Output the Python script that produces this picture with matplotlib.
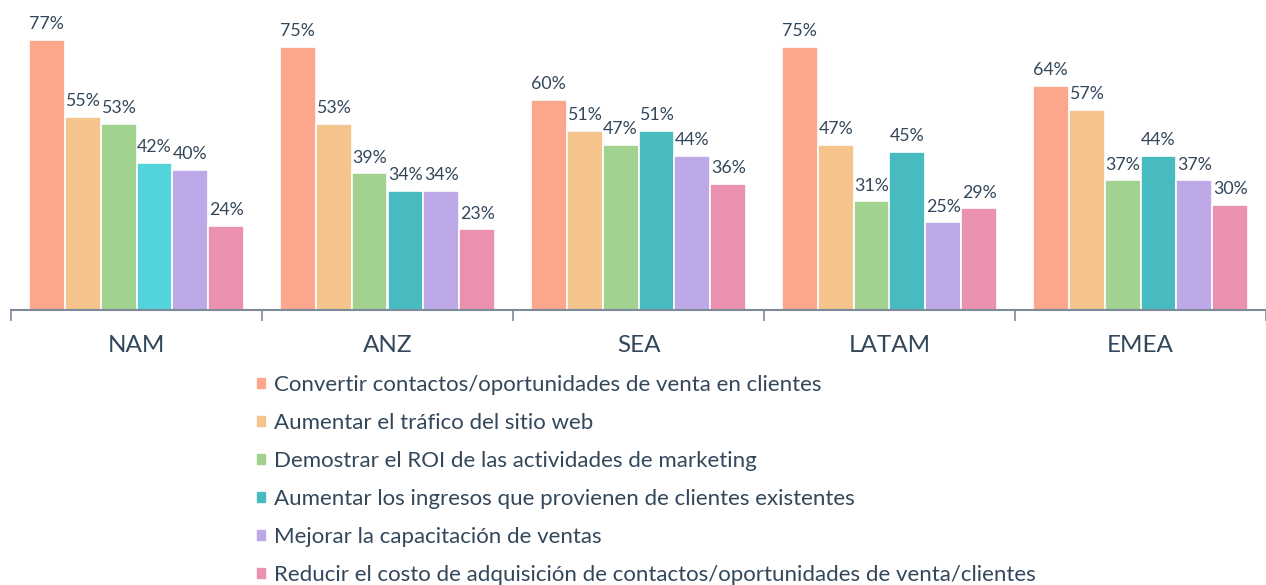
import matplotlib.pyplot as plt
import matplotlib.patches as mpatches
import numpy as np

regions = ["NAM", "ANZ", "SEA", "LATAM", "EMEA"]
series = [
    "Convertir contactos/oportunidades de venta en clientes",
    "Aumentar el tráfico del sitio web",
    "Demostrar el ROI de las actividades de marketing",
    "Aumentar los ingresos que provienen de clientes existentes",
    "Mejorar la capacitación de ventas",
    "Reducir el costo de adquisición de contactos/oportunidades de venta/clientes",
]
convertir = [77, 75, 60, 75, 64]
trafico = [55, 53, 51, 47, 57]
roi = [53, 39, 47, 31, 37]
ingresos = [42, 34, 51, 45, 44]
capacitacion = [40, 34, 44, 25, 37]
costo = [24, 23, 36, 29, 30]
values = [convertir, trafico, roi, ingresos, capacitacion, costo]

colors = ["#FCA68C", "#F4C48C", "#A2D290", "#48BBC1", "#BEA9E8", "#EA90B0"]
text_color = "#33475B"

plt.rcParams['font.family'] = ['Lato', 'DejaVu Sans']

fig = plt.figure(figsize=(12.66, 5.85), dpi=100)
ax = fig.add_axes([11 / 1266, (585 - 310) / 585, 1255 / 1266, 310 / 585])

step = 7
centers = np.arange(len(regions)) * step
for j, (name, vals) in enumerate(zip(series, values)):
    xs = centers + (j - 2.5)
    cols = [colors[j]] * len(vals)
    if j == 3:
        cols[0] = "#52D4DA"  # NAM teal is lighter in the original
    ax.bar(xs, vals, width=1.0, color=cols, edgecolor="white", linewidth=1.2)
    for x, v in zip(xs, vals):
        ax.text(x, v + 2.2, f"{v}%", ha="center", va="bottom",
                fontsize=12.8, color=text_color)

ax.set_xlim(-3.5, centers[-1] + 3.5)
ax.set_ylim(0, 88.4)
ax.set_yticks([])
ax.set_xticks(centers)
ax.set_xticklabels(regions, fontsize=17.5, color=text_color)
ax.tick_params(axis="x", which="major", length=0, pad=18)
ax.set_xticks(np.arange(len(regions) + 1) * step - 3.5, minor=True)
ax.tick_params(axis="x", which="minor", length=8, width=1.2, color="#7C8A99")
for s in ["top", "right", "left"]:
    ax.spines[s].set_visible(False)
ax.spines["bottom"].set_color("#7C8A99")
ax.spines["bottom"].set_linewidth(1.5)

handles = [mpatches.Patch(color=c, label=n) for c, n in zip(colors, series)]
fig.legend(handles=handles, loc="upper left",
           bbox_to_anchor=(257 / 1266, 1 - 375 / 585),
           frameon=False, fontsize=16, labelcolor=text_color,
           handlelength=0.34, handleheight=0.34, handletextpad=0.42,
           labelspacing=0.81, borderaxespad=0, borderpad=0)

fig.savefig("out.png", dpi=100)
